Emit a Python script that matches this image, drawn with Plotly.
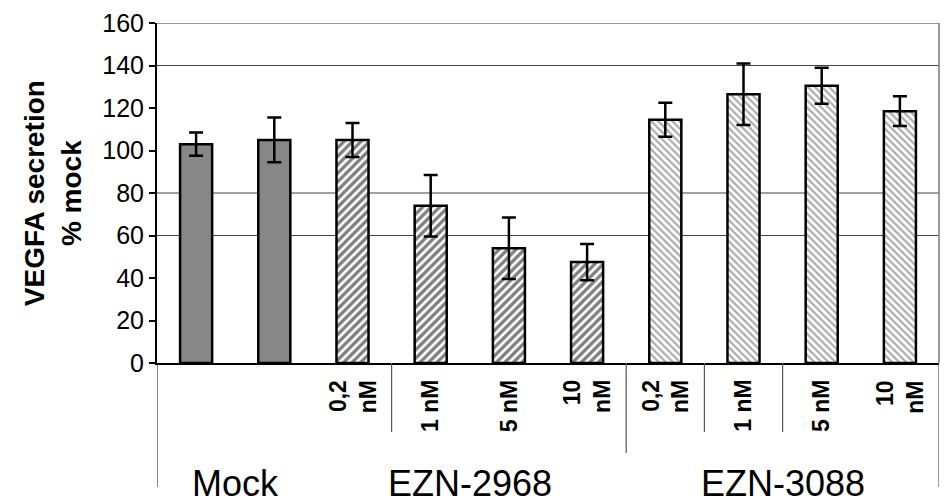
import plotly.graph_objects as go

# ---- data ----
positions = [0, 1, 2, 3, 4, 5, 6, 7, 8, 9]
values = [103, 105, 105, 74, 54, 47.5, 114.5, 126.5, 130.5, 118.5]
errors = [5.5, 10.5, 8, 14.5, 14.5, 8.5, 8, 14.5, 8.5, 7]
series_name = ["Mock", "Mock", "EZN-2968", "EZN-2968", "EZN-2968", "EZN-2968",
               "EZN-3088", "EZN-3088", "EZN-3088", "EZN-3088"]
sub_labels = ["", "", "0,2<br>nM", "1 nM", "5 nM", "10<br>nM",
              "0,2<br>nM", "1 nM", "5 nM", "10<br>nM"]
group_labels = ["Mock", "EZN-2968", "EZN-3088"]
group_centers = [0.5, 3.5, 7.5]
y_ticks = [0, 20, 40, 60, 80, 100, 120, 140, 160]
grid_values = [60, 80, 140]
# separator lines under the axis: (x position, bottom in paper units)
separators = [(-0.5, -0.365), (2.5, -0.203), (5.5, -0.265), (6.5, -0.203), (7.5, -0.203), (9.5, -0.365)]

FONT = "Liberation Sans, Arial, sans-serif"

styles = {
    "Mock": dict(color="#878787"),
    "EZN-2968": dict(color="white", pattern=dict(shape="/", fgcolor="#000000", bgcolor="white", size=6, solidity=0.55)),
    "EZN-3088": dict(color="white", pattern=dict(shape="\\", fgcolor="#5a5a5a", bgcolor="white", size=5, solidity=0.45)),
}

fig = go.Figure()
for name in ["Mock", "EZN-2968", "EZN-3088"]:
    idx = [i for i, s in enumerate(series_name) if s == name]
    fig.add_trace(go.Bar(
        x=[positions[i] for i in idx],
        y=[values[i] for i in idx],
        width=0.41,
        marker=dict(**styles[name], line=dict(color="black", width=2.5)),
        error_y=dict(type="data", array=[errors[i] for i in idx], color="black", thickness=2.5, width=7),
        showlegend=False,
        name=name,
    ))

shapes = []
for g in grid_values:
    shapes.append(dict(type="line", xref="paper", yref="y", x0=0, x1=1, y0=g, y1=g,
                       line=dict(color="#444444", width=1.2), layer="below"))
# top frame
shapes.append(dict(type="line", xref="paper", yref="y", x0=0, x1=1, y0=160, y1=160,
                   line=dict(color="#777777", width=1.5), layer="below"))
# right frame from top of plot down
shapes.append(dict(type="line", xref="paper", yref="paper", x0=1, x1=1, y0=1, y1=0,
                   line=dict(color="#777777", width=1.5), layer="below"))
for xs, yb in separators:
    col = "#555555" if xs != -0.5 else "#333333"
    shapes.append(dict(type="line", xref="x", yref="paper", x0=xs, x1=xs, y0=0, y1=yb,
                       line=dict(color=col, width=1.2)))

annotations = []
for i, lab in enumerate(sub_labels):
    if lab:
        annotations.append(dict(x=positions[i], y=-0.045, xref="x", yref="paper",
                                text="<b>" + lab + "</b>", textangle=-90, showarrow=False,
                                xanchor="center", yanchor="top", align="right",
                                font=dict(family=FONT, size=23, color="black")))
for lab, c in zip(group_labels, group_centers):
    annotations.append(dict(x=c, y=-0.355, xref="x", yref="paper", text=lab, showarrow=False,
                            xanchor="center", yanchor="middle",
                            font=dict(family=FONT, size=36, color="black")))
annotations.append(dict(x=-0.134, y=0.5, xref="paper", yref="paper",
                        text="<b>VEGFA secretion<br>% mock</b>", textangle=-90, showarrow=False,
                        xanchor="center", yanchor="middle",
                        font=dict(family=FONT, size=28, color="black")))

# the page body adds an 8px offset, so the figure is sized/offset to compensate
fig.update_layout(
    width=941, height=496,
    margin=dict(l=149, r=10, t=15, b=141, autoexpand=False),
    paper_bgcolor="white", plot_bgcolor="white",
    shapes=shapes, annotations=annotations,
    xaxis=dict(range=[-0.5, 9.5], showticklabels=False, showgrid=False, zeroline=False,
               showline=True, linecolor="black", linewidth=2, ticks="", automargin=False),
    yaxis=dict(range=[0, 160], tickvals=y_ticks, showgrid=False, zeroline=False,
               showline=True, linecolor="black", linewidth=2, ticks="outside", ticklen=6,
               tickwidth=2, tickcolor="black", automargin=False,
               tickfont=dict(family=FONT, size=25, color="black")),
    bargap=0.5,
)

fig.write_html("out.html")
